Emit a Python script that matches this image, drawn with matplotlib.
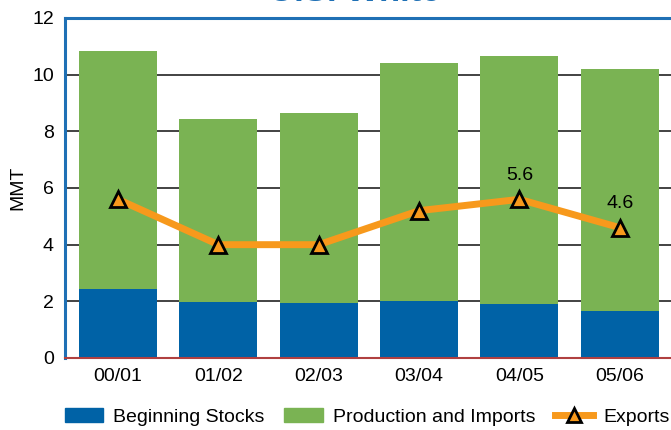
import matplotlib
matplotlib.use("Agg")
import matplotlib.pyplot as plt
import numpy as np
from matplotlib.patches import Patch
from matplotlib.lines import Line2D

plt.rcParams['font.family'] = ['Liberation Sans', 'DejaVu Sans']

categories = ["00/01", "01/02", "02/03", "03/04", "04/05", "05/06"]
beginning_stocks = [2.45, 1.98, 1.94, 2.0, 1.92, 1.67]
production_imports = [8.38, 6.47, 6.72, 8.42, 8.73, 8.54]
exports = [5.6, 4.0, 4.0, 5.2, 5.6, 4.6]
label_idx = [4, 5]
yticks = [0, 2, 4, 6, 8, 10, 12]

blue = '#0062a6'
green = '#7ab353'
orange = '#f7991c'
spine_blue = '#1f70b5'

fig = plt.figure(figsize=(6.71, 4.30), dpi=100)
ax = fig.add_axes([65/671, 72/430, 607/671, 340/430])

x = np.arange(len(categories))
w = 0.777
ax.bar(x, beginning_stocks, width=w, color=blue, zorder=2)
ax.bar(x, production_imports, width=w, bottom=beginning_stocks, color=green, zorder=2)
ax.plot(x, exports, color=orange, lw=5, zorder=3,
        marker='^', markersize=11, markerfacecolor=orange,
        markeredgecolor='black', markeredgewidth=2)
for i in label_idx:
    ax.text(x[i], exports[i] + 0.55, f"{exports[i]:.1f}", ha='center', va='bottom',
            fontsize=14, zorder=4)

ax.set_xlim(-0.528, 5.52)
ax.set_ylim(0, 12)
ax.set_yticks(yticks)
ax.set_xticks(x)
ax.set_xticklabels(categories, fontsize=14)
ax.tick_params(axis='y', labelsize=14, length=0, pad=8)
ax.tick_params(axis='x', length=0, pad=7)
ax.yaxis.grid(True, color='#222222', lw=1.2, zorder=1)
ax.set_axisbelow(True)
ax.set_ylabel("MMT", fontsize=14, labelpad=4)

ax.spines['right'].set_visible(False)
ax.spines['left'].set_color(spine_blue)
ax.spines['left'].set_linewidth(2.2)
ax.spines['top'].set_color(spine_blue)
ax.spines['top'].set_linewidth(2.2)
ax.spines['bottom'].set_color('#b04040')
ax.spines['bottom'].set_linewidth(1.5)

fig.text(355/671, 1.0 - 1/430, "U.S. White", ha='center', va='baseline',
         fontsize=25, fontweight='bold', color=spine_blue)

handles = [Patch(color=blue, label="Beginning Stocks"),
           Patch(color=green, label="Production and Imports"),
           Line2D([], [], color=orange, lw=5, marker='^', markersize=10,
                  markerfacecolor=orange, markeredgecolor='black',
                  markeredgewidth=2, label="Exports")]
fig.legend(handles=handles, loc='center', bbox_to_anchor=(367/671, 1 - 417/430),
           ncol=3, frameon=False, fontsize=14, handlelength=2.0,
           columnspacing=1.0, handletextpad=0.5)

fig.savefig("out.png", dpi=100)
